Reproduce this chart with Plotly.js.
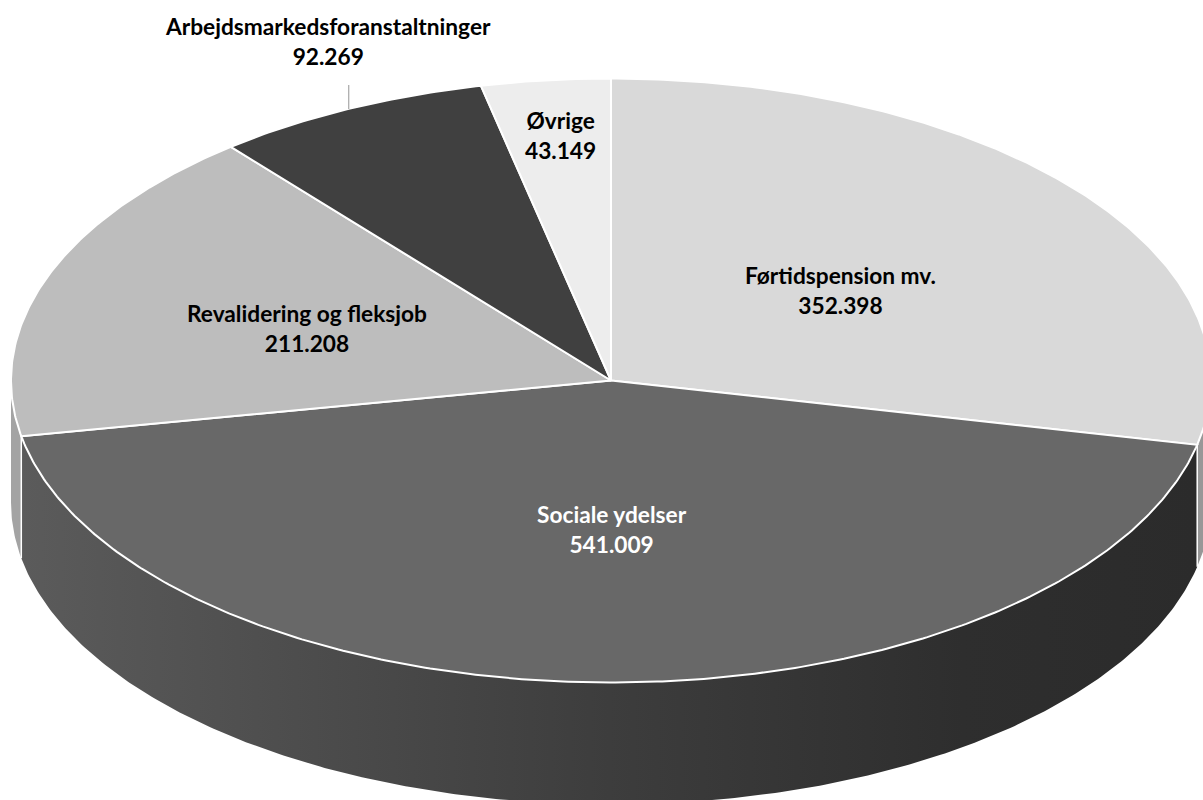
<!DOCTYPE html>
<html>
<head>
<meta charset="utf-8">
<script src="https://cdn.plot.ly/plotly-3.0.1.min.js"></script>
<style>html,body{margin:0;padding:0;background:#fff;overflow:hidden}</style>
</head>
<body>
<div id="chart" style="width:1203px;height:800px"></div>
<script>
// Data, clockwise from twelve o'clock
const categories = ["Førtidspension mv.", "Sociale ydelser", "Revalidering og fleksjob", "Arbejdsmarkedsforanstaltninger", "Øvrige"];
const values = [352398, 541009, 211208, 92269, 43149];
const faceColors = ["#d9d9d9", "#686868", "#bdbdbd", "#404040", "#ededed"];
const labelColors = ["#000000", "#ffffff", "#000000", "#000000", "#000000"];
const labelRadius = [0.5, 0.5, 0.5, 0, 0.81];
const labelShiftX = [-4, 5, -22, -3, 3];
const labelShiftY = [-5, 2, 0, 1, 1.5];

// Projection of the disc on the page
const W = 1203, H = 800, cx = 611, cy = 380.5, rx = 600, ry = 302, depthPx = 122;
const depth = depthPx / ry;

const total = values.reduce((a, b) => a + b, 0);
const deg = v => v / total * 360;
const pt = (a, r = 1, dy = 0) => {
  const t = a * Math.PI / 180;
  return [r * Math.sin(t), r * Math.cos(t) - dy];
};
const arc = (a0, a1, dy = 0) => {
  const out = [];
  const n = Math.max(2, Math.ceil(Math.abs(a1 - a0) * 2));
  for (let i = 0; i <= n; i++) out.push(pt(a0 + (a1 - a0) * i / n, 1, dy));
  return out;
};
const fmt = v => String(v).replace(/\B(?=(\d{3})+(?!\d))/g, ".");

let starts = [], run = 0;
values.forEach(v => { starts.push(run); run += deg(v); });
const ends = values.map((v, i) => starts[i] + deg(v));
const mids = values.map((v, i) => starts[i] + deg(v) / 2);

const traces = [];
function poly(pts, extra) {
  traces.push(Object.assign({
    type: "scatter", mode: "lines", x: pts.map(p => p[0]), y: pts.map(p => p[1]),
    fill: "toself", hoverinfo: "skip", showlegend: false
  }, extra));
}
function wall(a0, a1, extra) {
  const pts = arc(a0, a1).concat(arc(a1, a0, depth));
  pts.push(pts[0]);
  poly(pts, Object.assign({ line: { width: 0, color: "rgba(0,0,0,0)" } }, extra));
}

// Side wall: the three slices which reach the front half of the disc
wall(90, ends[0], { fillcolor: "#979797" });
wall(ends[1], 270, { fillcolor: "#a3a3a3" });
wall(ends[0], ends[1], {
  fillcolor: "#444444",
  fillgradient: {
    type: "horizontal",
    colorscale: [[0, "#5b5b5b"], [0.25, "#4c4c4c"], [0.5, "#3d3d3d"], [0.8, "#2e2e2e"], [1, "#2b2b2b"]]
  }
});
// Seams on the wall
[ends[0], ends[1]].forEach(a => {
  const p = pt(a), q = pt(a, 1, depth);
  traces.push({ type: "scatter", mode: "lines", x: [p[0], q[0]], y: [p[1], q[1]],
    line: { color: "#ffffff", width: 1.5 }, hoverinfo: "skip", showlegend: false });
});

// Top faces
values.forEach((v, i) => {
  const pts = [[0, 0]].concat(arc(starts[i], ends[i]));
  pts.push([0, 0]);
  poly(pts, { fillcolor: faceColors[i], line: { color: "#ffffff", width: 2 }, name: categories[i] });
});

// Leader line of the outside label
const lead = pt(mids[3]);
traces.push({ type: "scatter", mode: "lines", x: [lead[0], lead[0]], y: [lead[1], (cy - 85) / ry],
  line: { color: "#a6a6a6", width: 1.2 }, hoverinfo: "skip", showlegend: false });

const labelFont = { family: "Lato, 'Open Sans', sans-serif", size: 22.7 };
const annotations = values.map((v, i) => {
  const text = "<b>" + categories[i] + "<br>" + fmt(v) + "</b>";
  const base = { text, showarrow: false, xanchor: "center", yanchor: "middle", align: "center",
    xshift: labelShiftX[i], yshift: labelShiftY[i],
    font: Object.assign({ color: labelColors[i] }, labelFont) };
  if (i === 3) return Object.assign(base, { x: (331 - cx) / rx, y: (cy - 42) / ry });
  const p = pt(mids[i], labelRadius[i]);
  return Object.assign(base, { x: p[0], y: p[1] });
});

const layout = {
  width: W, height: H, margin: { l: 0, r: 0, t: 0, b: 0, pad: 0 },
  paper_bgcolor: "#ffffff", plot_bgcolor: "#ffffff", showlegend: false,
  xaxis: { range: [-cx / rx, (W - cx) / rx], visible: false, fixedrange: true },
  yaxis: { range: [-(H - cy) / ry, cy / ry], visible: false, fixedrange: true },
  annotations
};
Plotly.newPlot("chart", traces, layout, { displayModeBar: false, staticPlot: true });
</script>
</body>
</html>
